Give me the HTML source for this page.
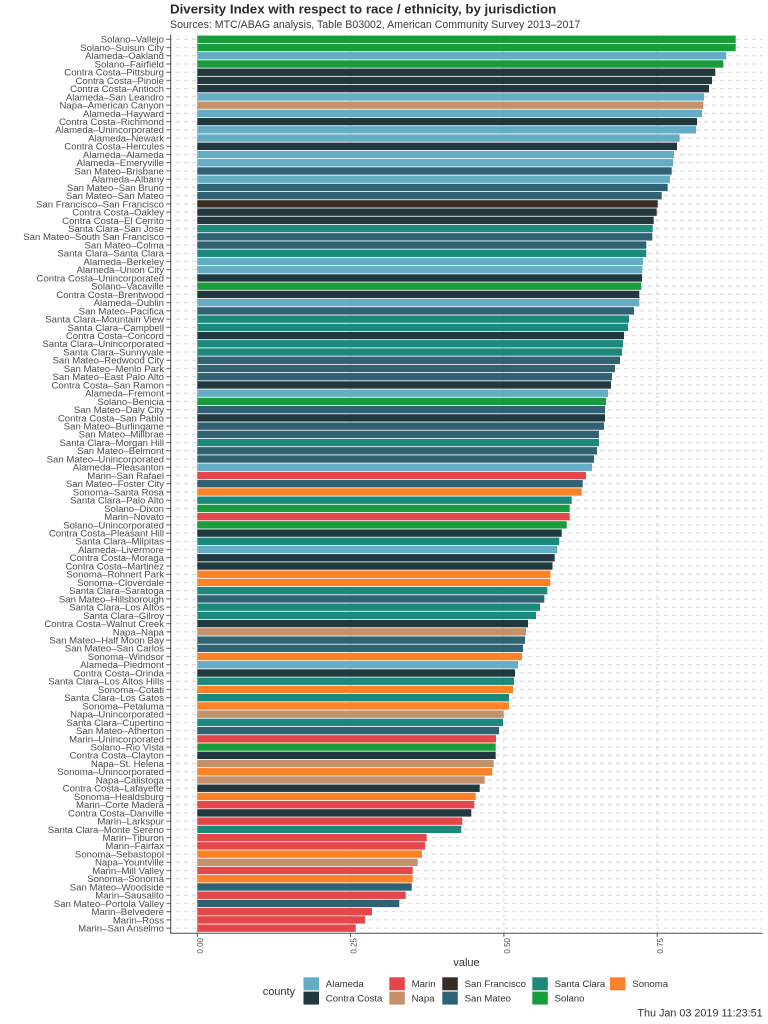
<!DOCTYPE html>
<html><head><meta charset="utf-8">
<style>
html,body{margin:0;padding:0;background:#fff;}
svg{display:block;}
.yl text{font-family:"Liberation Sans",sans-serif;font-size:9.6px;fill:#4d4d4d;text-anchor:end;}
.A{fill:#64adc5}.C{fill:#22383f}.M{fill:#e5464a}.N{fill:#c4916a}.F{fill:#372c22}.S{fill:#2f6374}.K{fill:#1b8a7c}.L{fill:#199c3b}.O{fill:#fd8227}
.t{font-family:"Liberation Sans",sans-serif;}
</style></head>
<body>
<svg width="768" height="1024" viewBox="0 0 768 1024" xmlns="http://www.w3.org/2000/svg">
<defs>
<pattern id="hg" x="0" y="35.185" width="8" height="8.23" patternUnits="userSpaceOnUse">
<line x1="0" x2="4" y1="4.115" y2="4.115" stroke="#cfcfcf" stroke-width="0.9"/>
</pattern>
<pattern id="tk" x="166.2" y="35.185" width="20" height="8.23" patternUnits="userSpaceOnUse">
<line x1="0" x2="4.4" y1="4.115" y2="4.115" stroke="#4d4d4d" stroke-width="0.9"/>
</pattern>
</defs>
<rect width="768" height="1024" fill="#fff"/>
<text class="t" x="170" y="13.5" font-size="13.3" font-weight="bold" fill="#2b2b2b">Diversity Index with respect to race / ethnicity, by jurisdiction</text>
<text class="t" x="170" y="28" font-size="10.6" fill="#3a3a3a">Sources: MTC/ABAG analysis, Table B03002, American Community Survey 2013–2017</text>

<!-- grid -->
<rect x="171" y="34.4" width="591" height="898.8" fill="url(#hg)"/>
<g stroke="#cfcfcf" stroke-width="0.9" stroke-dasharray="4 4">
<line x1="197.3" x2="197.3" y1="34.4" y2="933.2"/>
<line x1="350.6" x2="350.6" y1="34.4" y2="933.2"/>
<line x1="503.9" x2="503.9" y1="34.4" y2="933.2"/>
<line x1="657.2" x2="657.2" y1="34.4" y2="933.2"/>
</g>
<rect x="166.2" y="34.4" width="4.4" height="898.8" fill="url(#tk)"/>

<g class="yl">
<g transform="translate(0,39.3)"><rect x="197.3" y="-3.7" width="538.4" height="7.4" class="L"/><text x="164" y="3.4">Solano–Vallejo</text></g>
<g transform="translate(0,47.53)"><rect x="197.3" y="-3.7" width="538.4" height="7.4" class="L"/><text x="164" y="3.4">Solano–Suisun City</text></g>
<g transform="translate(0,55.76)"><rect x="197.3" y="-3.7" width="529" height="7.4" class="A"/><text x="164" y="3.4">Alameda–Oakland</text></g>
<g transform="translate(0,63.99)"><rect x="197.3" y="-3.7" width="526" height="7.4" class="L"/><text x="164" y="3.4">Solano–Fairfield</text></g>
<g transform="translate(0,72.22)"><rect x="197.3" y="-3.7" width="518" height="7.4" class="C"/><text x="164" y="3.4">Contra Costa–Pittsburg</text></g>
<g transform="translate(0,80.45)"><rect x="197.3" y="-3.7" width="514.7" height="7.4" class="C"/><text x="164" y="3.4">Contra Costa–Pinole</text></g>
<g transform="translate(0,88.68)"><rect x="197.3" y="-3.7" width="511.7" height="7.4" class="C"/><text x="164" y="3.4">Contra Costa–Antioch</text></g>
<g transform="translate(0,96.91)"><rect x="197.3" y="-3.7" width="506.7" height="7.4" class="A"/><text x="164" y="3.4">Alameda–San Leandro</text></g>
<g transform="translate(0,105.14)"><rect x="197.3" y="-3.7" width="506" height="7.4" class="N"/><text x="164" y="3.4">Napa–American Canyon</text></g>
<g transform="translate(0,113.37)"><rect x="197.3" y="-3.7" width="504.7" height="7.4" class="A"/><text x="164" y="3.4">Alameda–Hayward</text></g>
<g transform="translate(0,121.6)"><rect x="197.3" y="-3.7" width="499.7" height="7.4" class="C"/><text x="164" y="3.4">Contra Costa–Richmond</text></g>
<g transform="translate(0,129.83)"><rect x="197.3" y="-3.7" width="498.7" height="7.4" class="A"/><text x="164" y="3.4">Alameda–Unincorporated</text></g>
<g transform="translate(0,138.06)"><rect x="197.3" y="-3.7" width="482.4" height="7.4" class="A"/><text x="164" y="3.4">Alameda–Newark</text></g>
<g transform="translate(0,146.29)"><rect x="197.3" y="-3.7" width="479.7" height="7.4" class="C"/><text x="164" y="3.4">Contra Costa–Hercules</text></g>
<g transform="translate(0,154.52)"><rect x="197.3" y="-3.7" width="476.7" height="7.4" class="A"/><text x="164" y="3.4">Alameda–Alameda</text></g>
<g transform="translate(0,162.75)"><rect x="197.3" y="-3.7" width="475.7" height="7.4" class="A"/><text x="164" y="3.4">Alameda–Emeryville</text></g>
<g transform="translate(0,170.98)"><rect x="197.3" y="-3.7" width="474.4" height="7.4" class="S"/><text x="164" y="3.4">San Mateo–Brisbane</text></g>
<g transform="translate(0,179.21)"><rect x="197.3" y="-3.7" width="472.7" height="7.4" class="A"/><text x="164" y="3.4">Alameda–Albany</text></g>
<g transform="translate(0,187.44)"><rect x="197.3" y="-3.7" width="470.4" height="7.4" class="S"/><text x="164" y="3.4">San Mateo–San Bruno</text></g>
<g transform="translate(0,195.67)"><rect x="197.3" y="-3.7" width="464.4" height="7.4" class="S"/><text x="164" y="3.4">San Mateo–San Mateo</text></g>
<g transform="translate(0,203.9)"><rect x="197.3" y="-3.7" width="460.4" height="7.4" class="F"/><text x="164" y="3.4">San Francisco–San Francisco</text></g>
<g transform="translate(0,212.13)"><rect x="197.3" y="-3.7" width="459.4" height="7.4" class="C"/><text x="164" y="3.4">Contra Costa–Oakley</text></g>
<g transform="translate(0,220.36)"><rect x="197.3" y="-3.7" width="456.4" height="7.4" class="C"/><text x="164" y="3.4">Contra Costa–El Cerrito</text></g>
<g transform="translate(0,228.59)"><rect x="197.3" y="-3.7" width="455.4" height="7.4" class="K"/><text x="164" y="3.4">Santa Clara–San Jose</text></g>
<g transform="translate(0,236.82)"><rect x="197.3" y="-3.7" width="455" height="7.4" class="S"/><text x="164" y="3.4">San Mateo–South San Francisco</text></g>
<g transform="translate(0,245.05)"><rect x="197.3" y="-3.7" width="449" height="7.4" class="S"/><text x="164" y="3.4">San Mateo–Colma</text></g>
<g transform="translate(0,253.28)"><rect x="197.3" y="-3.7" width="449" height="7.4" class="K"/><text x="164" y="3.4">Santa Clara–Santa Clara</text></g>
<g transform="translate(0,261.51)"><rect x="197.3" y="-3.7" width="445.7" height="7.4" class="A"/><text x="164" y="3.4">Alameda–Berkeley</text></g>
<g transform="translate(0,269.74)"><rect x="197.3" y="-3.7" width="445" height="7.4" class="A"/><text x="164" y="3.4">Alameda–Union City</text></g>
<g transform="translate(0,277.97)"><rect x="197.3" y="-3.7" width="444.7" height="7.4" class="C"/><text x="164" y="3.4">Contra Costa–Unincorporated</text></g>
<g transform="translate(0,286.2)"><rect x="197.3" y="-3.7" width="444" height="7.4" class="L"/><text x="164" y="3.4">Solano–Vacaville</text></g>
<g transform="translate(0,294.43)"><rect x="197.3" y="-3.7" width="442" height="7.4" class="C"/><text x="164" y="3.4">Contra Costa–Brentwood</text></g>
<g transform="translate(0,302.66)"><rect x="197.3" y="-3.7" width="442" height="7.4" class="A"/><text x="164" y="3.4">Alameda–Dublin</text></g>
<g transform="translate(0,310.89)"><rect x="197.3" y="-3.7" width="436.7" height="7.4" class="S"/><text x="164" y="3.4">San Mateo–Pacifica</text></g>
<g transform="translate(0,319.12)"><rect x="197.3" y="-3.7" width="431.7" height="7.4" class="K"/><text x="164" y="3.4">Santa Clara–Mountain View</text></g>
<g transform="translate(0,327.35)"><rect x="197.3" y="-3.7" width="430.7" height="7.4" class="K"/><text x="164" y="3.4">Santa Clara–Campbell</text></g>
<g transform="translate(0,335.58)"><rect x="197.3" y="-3.7" width="426.7" height="7.4" class="C"/><text x="164" y="3.4">Contra Costa–Concord</text></g>
<g transform="translate(0,343.81)"><rect x="197.3" y="-3.7" width="425.7" height="7.4" class="K"/><text x="164" y="3.4">Santa Clara–Unincorporated</text></g>
<g transform="translate(0,352.04)"><rect x="197.3" y="-3.7" width="424.7" height="7.4" class="K"/><text x="164" y="3.4">Santa Clara–Sunnyvale</text></g>
<g transform="translate(0,360.27)"><rect x="197.3" y="-3.7" width="422.7" height="7.4" class="S"/><text x="164" y="3.4">San Mateo–Redwood City</text></g>
<g transform="translate(0,368.5)"><rect x="197.3" y="-3.7" width="417.7" height="7.4" class="S"/><text x="164" y="3.4">San Mateo–Menlo Park</text></g>
<g transform="translate(0,376.73)"><rect x="197.3" y="-3.7" width="414.7" height="7.4" class="S"/><text x="164" y="3.4">San Mateo–East Palo Alto</text></g>
<g transform="translate(0,384.96)"><rect x="197.3" y="-3.7" width="413.7" height="7.4" class="C"/><text x="164" y="3.4">Contra Costa–San Ramon</text></g>
<g transform="translate(0,393.19)"><rect x="197.3" y="-3.7" width="410.7" height="7.4" class="A"/><text x="164" y="3.4">Alameda–Fremont</text></g>
<g transform="translate(0,401.42)"><rect x="197.3" y="-3.7" width="408.7" height="7.4" class="L"/><text x="164" y="3.4">Solano–Benicia</text></g>
<g transform="translate(0,409.65)"><rect x="197.3" y="-3.7" width="407.7" height="7.4" class="S"/><text x="164" y="3.4">San Mateo–Daly City</text></g>
<g transform="translate(0,417.88)"><rect x="197.3" y="-3.7" width="407.7" height="7.4" class="C"/><text x="164" y="3.4">Contra Costa–San Pablo</text></g>
<g transform="translate(0,426.11)"><rect x="197.3" y="-3.7" width="406.7" height="7.4" class="S"/><text x="164" y="3.4">San Mateo–Burlingame</text></g>
<g transform="translate(0,434.34)"><rect x="197.3" y="-3.7" width="401.7" height="7.4" class="S"/><text x="164" y="3.4">San Mateo–Millbrae</text></g>
<g transform="translate(0,442.57)"><rect x="197.3" y="-3.7" width="401.7" height="7.4" class="K"/><text x="164" y="3.4">Santa Clara–Morgan Hill</text></g>
<g transform="translate(0,450.8)"><rect x="197.3" y="-3.7" width="399.7" height="7.4" class="S"/><text x="164" y="3.4">San Mateo–Belmont</text></g>
<g transform="translate(0,459.03)"><rect x="197.3" y="-3.7" width="396.7" height="7.4" class="S"/><text x="164" y="3.4">San Mateo–Unincorporated</text></g>
<g transform="translate(0,467.26)"><rect x="197.3" y="-3.7" width="394.7" height="7.4" class="A"/><text x="164" y="3.4">Alameda–Pleasanton</text></g>
<g transform="translate(0,475.49)"><rect x="197.3" y="-3.7" width="388.7" height="7.4" class="M"/><text x="164" y="3.4">Marin–San Rafael</text></g>
<g transform="translate(0,483.72)"><rect x="197.3" y="-3.7" width="385.4" height="7.4" class="S"/><text x="164" y="3.4">San Mateo–Foster City</text></g>
<g transform="translate(0,491.95)"><rect x="197.3" y="-3.7" width="384.4" height="7.4" class="O"/><text x="164" y="3.4">Sonoma–Santa Rosa</text></g>
<g transform="translate(0,500.18)"><rect x="197.3" y="-3.7" width="374.4" height="7.4" class="K"/><text x="164" y="3.4">Santa Clara–Palo Alto</text></g>
<g transform="translate(0,508.41)"><rect x="197.3" y="-3.7" width="372.4" height="7.4" class="L"/><text x="164" y="3.4">Solano–Dixon</text></g>
<g transform="translate(0,516.64)"><rect x="197.3" y="-3.7" width="372.4" height="7.4" class="M"/><text x="164" y="3.4">Marin–Novato</text></g>
<g transform="translate(0,524.87)"><rect x="197.3" y="-3.7" width="369.4" height="7.4" class="L"/><text x="164" y="3.4">Solano–Unincorporated</text></g>
<g transform="translate(0,533.1)"><rect x="197.3" y="-3.7" width="364.4" height="7.4" class="C"/><text x="164" y="3.4">Contra Costa–Pleasant Hill</text></g>
<g transform="translate(0,541.33)"><rect x="197.3" y="-3.7" width="362" height="7.4" class="K"/><text x="164" y="3.4">Santa Clara–Milpitas</text></g>
<g transform="translate(0,549.56)"><rect x="197.3" y="-3.7" width="360" height="7.4" class="A"/><text x="164" y="3.4">Alameda–Livermore</text></g>
<g transform="translate(0,557.79)"><rect x="197.3" y="-3.7" width="357.4" height="7.4" class="C"/><text x="164" y="3.4">Contra Costa–Moraga</text></g>
<g transform="translate(0,566.02)"><rect x="197.3" y="-3.7" width="355.2" height="7.4" class="C"/><text x="164" y="3.4">Contra Costa–Martinez</text></g>
<g transform="translate(0,574.25)"><rect x="197.3" y="-3.7" width="353.2" height="7.4" class="O"/><text x="164" y="3.4">Sonoma–Rohnert Park</text></g>
<g transform="translate(0,582.48)"><rect x="197.3" y="-3.7" width="353" height="7.4" class="O"/><text x="164" y="3.4">Sonoma–Cloverdale</text></g>
<g transform="translate(0,590.71)"><rect x="197.3" y="-3.7" width="350" height="7.4" class="K"/><text x="164" y="3.4">Santa Clara–Saratoga</text></g>
<g transform="translate(0,598.94)"><rect x="197.3" y="-3.7" width="347" height="7.4" class="S"/><text x="164" y="3.4">San Mateo–Hillsborough</text></g>
<g transform="translate(0,607.17)"><rect x="197.3" y="-3.7" width="342.7" height="7.4" class="K"/><text x="164" y="3.4">Santa Clara–Los Altos</text></g>
<g transform="translate(0,615.4)"><rect x="197.3" y="-3.7" width="338.7" height="7.4" class="K"/><text x="164" y="3.4">Santa Clara–Gilroy</text></g>
<g transform="translate(0,623.63)"><rect x="197.3" y="-3.7" width="330.7" height="7.4" class="C"/><text x="164" y="3.4">Contra Costa–Walnut Creek</text></g>
<g transform="translate(0,631.86)"><rect x="197.3" y="-3.7" width="328.7" height="7.4" class="N"/><text x="164" y="3.4">Napa–Napa</text></g>
<g transform="translate(0,640.09)"><rect x="197.3" y="-3.7" width="327.7" height="7.4" class="S"/><text x="164" y="3.4">San Mateo–Half Moon Bay</text></g>
<g transform="translate(0,648.32)"><rect x="197.3" y="-3.7" width="325.7" height="7.4" class="S"/><text x="164" y="3.4">San Mateo–San Carlos</text></g>
<g transform="translate(0,656.55)"><rect x="197.3" y="-3.7" width="324.7" height="7.4" class="O"/><text x="164" y="3.4">Sonoma–Windsor</text></g>
<g transform="translate(0,664.78)"><rect x="197.3" y="-3.7" width="320.7" height="7.4" class="A"/><text x="164" y="3.4">Alameda–Piedmont</text></g>
<g transform="translate(0,673.01)"><rect x="197.3" y="-3.7" width="317.7" height="7.4" class="C"/><text x="164" y="3.4">Contra Costa–Orinda</text></g>
<g transform="translate(0,681.24)"><rect x="197.3" y="-3.7" width="316.7" height="7.4" class="K"/><text x="164" y="3.4">Santa Clara–Los Altos Hills</text></g>
<g transform="translate(0,689.47)"><rect x="197.3" y="-3.7" width="315.7" height="7.4" class="O"/><text x="164" y="3.4">Sonoma–Cotati</text></g>
<g transform="translate(0,697.7)"><rect x="197.3" y="-3.7" width="311.7" height="7.4" class="K"/><text x="164" y="3.4">Santa Clara–Los Gatos</text></g>
<g transform="translate(0,705.93)"><rect x="197.3" y="-3.7" width="311.7" height="7.4" class="O"/><text x="164" y="3.4">Sonoma–Petaluma</text></g>
<g transform="translate(0,714.16)"><rect x="197.3" y="-3.7" width="306.4" height="7.4" class="N"/><text x="164" y="3.4">Napa–Unincorporated</text></g>
<g transform="translate(0,722.39)"><rect x="197.3" y="-3.7" width="305.7" height="7.4" class="K"/><text x="164" y="3.4">Santa Clara–Cupertino</text></g>
<g transform="translate(0,730.62)"><rect x="197.3" y="-3.7" width="301.7" height="7.4" class="S"/><text x="164" y="3.4">San Mateo–Atherton</text></g>
<g transform="translate(0,738.85)"><rect x="197.3" y="-3.7" width="298.7" height="7.4" class="M"/><text x="164" y="3.4">Marin–Unincorporated</text></g>
<g transform="translate(0,747.08)"><rect x="197.3" y="-3.7" width="298.4" height="7.4" class="L"/><text x="164" y="3.4">Solano–Rio Vista</text></g>
<g transform="translate(0,755.31)"><rect x="197.3" y="-3.7" width="298.4" height="7.4" class="C"/><text x="164" y="3.4">Contra Costa–Clayton</text></g>
<g transform="translate(0,763.54)"><rect x="197.3" y="-3.7" width="296.4" height="7.4" class="N"/><text x="164" y="3.4">Napa–St. Helena</text></g>
<g transform="translate(0,771.77)"><rect x="197.3" y="-3.7" width="295" height="7.4" class="O"/><text x="164" y="3.4">Sonoma–Unincorporated</text></g>
<g transform="translate(0,780)"><rect x="197.3" y="-3.7" width="287.4" height="7.4" class="N"/><text x="164" y="3.4">Napa–Calistoga</text></g>
<g transform="translate(0,788.23)"><rect x="197.3" y="-3.7" width="282.4" height="7.4" class="C"/><text x="164" y="3.4">Contra Costa–Lafayette</text></g>
<g transform="translate(0,796.46)"><rect x="197.3" y="-3.7" width="278.4" height="7.4" class="O"/><text x="164" y="3.4">Sonoma–Healdsburg</text></g>
<g transform="translate(0,804.69)"><rect x="197.3" y="-3.7" width="277" height="7.4" class="M"/><text x="164" y="3.4">Marin–Corte Madera</text></g>
<g transform="translate(0,812.92)"><rect x="197.3" y="-3.7" width="274" height="7.4" class="C"/><text x="164" y="3.4">Contra Costa–Danville</text></g>
<g transform="translate(0,821.15)"><rect x="197.3" y="-3.7" width="265" height="7.4" class="M"/><text x="164" y="3.4">Marin–Larkspur</text></g>
<g transform="translate(0,829.38)"><rect x="197.3" y="-3.7" width="264" height="7.4" class="K"/><text x="164" y="3.4">Santa Clara–Monte Sereno</text></g>
<g transform="translate(0,837.61)"><rect x="197.3" y="-3.7" width="229.4" height="7.4" class="M"/><text x="164" y="3.4">Marin–Tiburon</text></g>
<g transform="translate(0,845.84)"><rect x="197.3" y="-3.7" width="227.7" height="7.4" class="M"/><text x="164" y="3.4">Marin–Fairfax</text></g>
<g transform="translate(0,854.07)"><rect x="197.3" y="-3.7" width="224.7" height="7.4" class="O"/><text x="164" y="3.4">Sonoma–Sebastopol</text></g>
<g transform="translate(0,862.3)"><rect x="197.3" y="-3.7" width="220.4" height="7.4" class="N"/><text x="164" y="3.4">Napa–Yountville</text></g>
<g transform="translate(0,870.53)"><rect x="197.3" y="-3.7" width="215.4" height="7.4" class="M"/><text x="164" y="3.4">Marin–Mill Valley</text></g>
<g transform="translate(0,878.76)"><rect x="197.3" y="-3.7" width="215.4" height="7.4" class="O"/><text x="164" y="3.4">Sonoma–Sonoma</text></g>
<g transform="translate(0,886.99)"><rect x="197.3" y="-3.7" width="214.4" height="7.4" class="S"/><text x="164" y="3.4">San Mateo–Woodside</text></g>
<g transform="translate(0,895.22)"><rect x="197.3" y="-3.7" width="208.4" height="7.4" class="M"/><text x="164" y="3.4">Marin–Sausalito</text></g>
<g transform="translate(0,903.45)"><rect x="197.3" y="-3.7" width="202" height="7.4" class="S"/><text x="164" y="3.4">San Mateo–Portola Valley</text></g>
<g transform="translate(0,911.68)"><rect x="197.3" y="-3.7" width="174.7" height="7.4" class="M"/><text x="164" y="3.4">Marin–Belvedere</text></g>
<g transform="translate(0,919.91)"><rect x="197.3" y="-3.7" width="167.7" height="7.4" class="M"/><text x="164" y="3.4">Marin–Ross</text></g>
<g transform="translate(0,928.14)"><rect x="197.3" y="-3.7" width="158.4" height="7.4" class="M"/><text x="164" y="3.4">Marin–San Anselmo</text></g>
</g>

<!-- axes -->
<g stroke="#4d4d4d" stroke-width="1" fill="none">
<line x1="170.7" x2="170.7" y1="34.4" y2="933.2"/>
<line x1="170.2" x2="762.5" y1="933.2" y2="933.2"/>
<line x1="197.3" x2="197.3" y1="933.2" y2="936.8"/>
<line x1="350.6" x2="350.6" y1="933.2" y2="936.8"/>
<line x1="503.9" x2="503.9" y1="933.2" y2="936.8"/>
<line x1="657.2" x2="657.2" y1="933.2" y2="936.8"/>
</g>
<g class="t" font-size="8" fill="#4d4d4d" text-anchor="end">
<text transform="translate(203.2,938) rotate(-90)">0.00</text>
<text transform="translate(356.5,938) rotate(-90)">0.25</text>
<text transform="translate(509.8,938) rotate(-90)">0.50</text>
<text transform="translate(663.1,938) rotate(-90)">0.75</text>
</g>
<text class="t" x="466.5" y="966" font-size="11" fill="#333" text-anchor="middle">value</text>

<!-- legend -->
<text class="t" x="262.7" y="995" font-size="11" fill="#333">county</text>
<rect x="303.5" y="977.3" width="15.5" height="13" class="A"/>
<rect x="303.5" y="991.6" width="15.5" height="13" class="C"/>
<rect x="389.3" y="977.3" width="15.5" height="13" class="M"/>
<rect x="389.3" y="991.6" width="15.5" height="13" class="N"/>
<rect x="442.3" y="977.3" width="15.5" height="13" class="F"/>
<rect x="442.3" y="991.6" width="15.5" height="13" class="S"/>
<rect x="532.3" y="977.3" width="15.5" height="13" class="K"/>
<rect x="532.3" y="991.6" width="15.5" height="13" class="L"/>
<rect x="610" y="977.3" width="15.5" height="13" class="O"/>
<g class="t" font-size="9.6" fill="#333">
<text x="325.8" y="987.2">Alameda</text>
<text x="325.8" y="1001.5">Contra Costa</text>
<text x="411.6" y="987.2">Marin</text>
<text x="411.6" y="1001.5">Napa</text>
<text x="464.6" y="987.2">San Francisco</text>
<text x="464.6" y="1001.5">San Mateo</text>
<text x="554.6" y="987.2">Santa Clara</text>
<text x="554.6" y="1001.5">Solano</text>
<text x="632.3" y="987.2">Sonoma</text>
</g>
<text class="t" x="762.7" y="1016.6" font-size="10.8" fill="#333" text-anchor="end">Thu Jan 03 2019 11:23:51</text>
</svg>
</body></html>
